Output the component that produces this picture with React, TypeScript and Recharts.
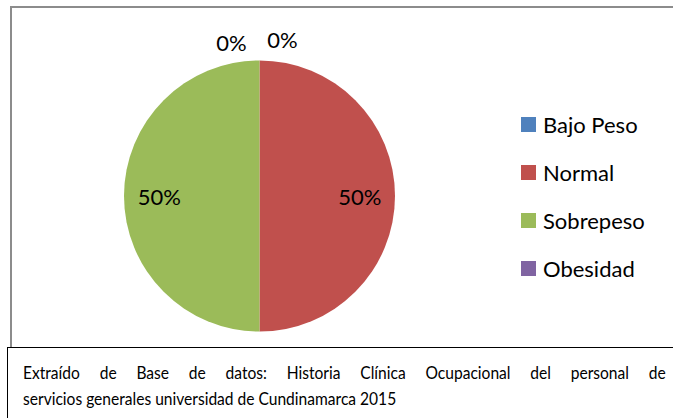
import { PieChart, Pie, Cell, Legend } from 'recharts'

const categorias = ['Bajo Peso', 'Normal', 'Sobrepeso', 'Obesidad']
const valores = [0, 50, 50, 0]
const colores = ['#4F81BD', '#C0504D', '#9BBB59', '#8064A2']

const fuente = 'Lato, "Open Sans", sans-serif'

const datos = categorias.map((nombre, i) => ({ nombre, valor: valores[i] }))

const RAD = Math.PI / 180

function EtiquetaPie(props: any) {
  const { cx, cy, midAngle, outerRadius, percent, index, value } = props
  let x: number
  let y: number
  if (value === 0) {
    // las porciones vacias se etiquetan afuera, arriba
    x = cx + (index === 0 ? 23 : -28)
    y = cy - outerRadius - (index === 0 ? 21 : 18)
  } else {
    const r = outerRadius * 0.74
    x = cx + r * Math.cos(-midAngle * RAD)
    y = cy + r * Math.sin(-midAngle * RAD)
  }
  return (
    <text x={x} y={y} fill="#000" fontSize={22} fontFamily={fuente} textAnchor="middle" dominantBaseline="central">
      {`${Math.round(percent * 100)}%`}
    </text>
  )
}

// se arma desde los arreglos para conservar el orden original
function LeyendaLateral() {
  return (
    <div>
      {categorias.map((c, i) => (
        <div key={c} style={{ display: 'flex', alignItems: 'center', height: 48, fontFamily: fuente, fontSize: 22, color: '#000' }}>
          <span style={{ width: 15, height: 15, background: colores[i], display: 'inline-block', marginRight: 7 }} />
          {c}
        </div>
      ))}
    </div>
  )
}

export default function App() {
  return (
    <div style={{ position: 'absolute', left: 0, top: 0, width: 673, height: 418, overflow: 'hidden', background: '#fff' }}>
      <div style={{ position: 'absolute', left: 10, top: 6, width: 700, height: 360, border: '2px solid #8c8c8c', boxSizing: 'border-box' }} />
      <div style={{ position: 'absolute', left: 0, top: 0 }}>
        <PieChart width={673} height={348} margin={{ top: 0, right: 0, bottom: 0, left: 0 }}>
          <Pie
            data={datos}
            dataKey="valor"
            nameKey="nombre"
            cx={259.5}
            cy={196}
            outerRadius={135.5}
            startAngle={90}
            endAngle={-270}
            stroke="none"
            label={EtiquetaPie}
            labelLine={false}
            isAnimationActive={false}
          >
            {datos.map((d, i) => (
              <Cell key={d.nombre} fill={colores[i]} />
            ))}
          </Pie>
          <Legend
            layout="vertical"
            content={<LeyendaLateral />}
            wrapperStyle={{ left: 521, top: 100, width: 150 }}
          />
        </PieChart>
      </div>
      <div
        style={{
          position: 'absolute',
          left: 7,
          top: 347,
          width: 700,
          height: 100,
          border: '1.5px solid #000',
          boxSizing: 'border-box',
          background: '#fff',
        }}
      />
      <div
        style={{
          position: 'absolute',
          left: 23,
          top: 359,
          width: 743,
          fontFamily: fuente,
          fontSize: 18,
          color: '#000',
          lineHeight: '26px',
          transform: 'scaleX(0.865)',
          transformOrigin: 'left top',
        }}
      >
        <div style={{ textAlign: 'justify', textAlignLast: 'justify' }}>
          Extraído de Base de datos: Historia Clínica Ocupacional del personal de
        </div>
        <div>servicios generales universidad de Cundinamarca 2015</div>
      </div>
    </div>
  )
}
